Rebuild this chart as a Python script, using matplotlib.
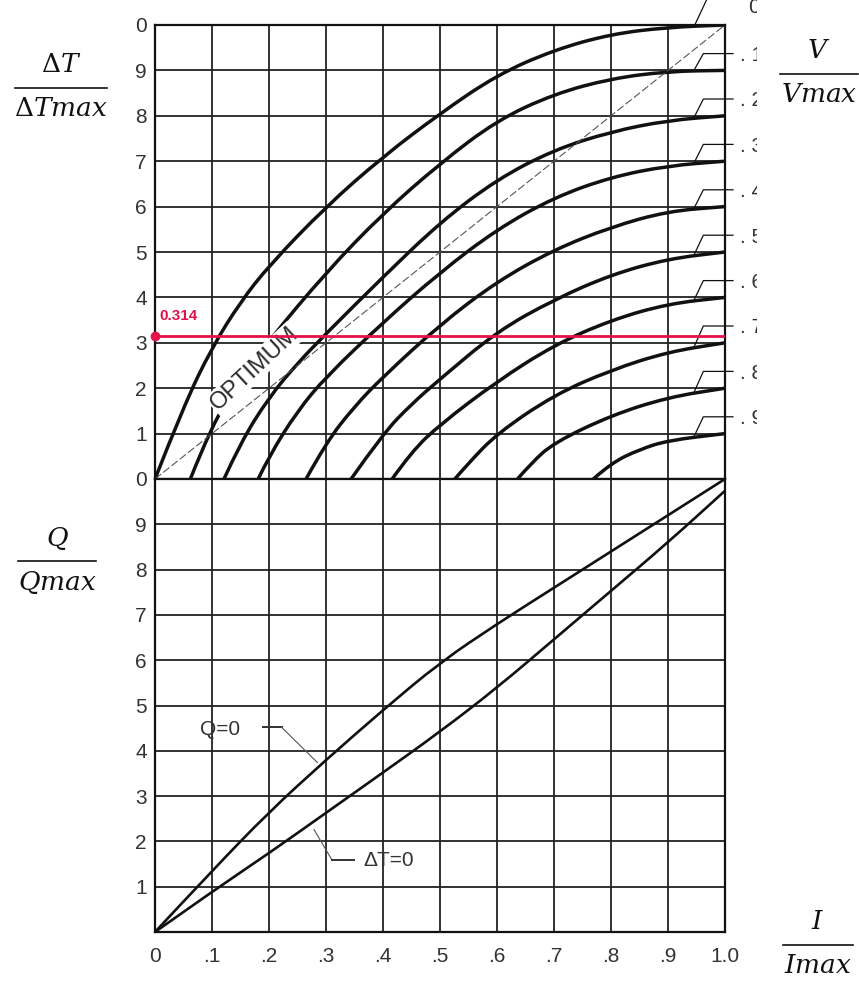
import numpy as np
import matplotlib.pyplot as plt
from matplotlib.lines import Line2D
from matplotlib.path import Path
from matplotlib.patches import PathPatch
from matplotlib.transforms import Bbox, TransformedBbox

plt.rcParams['font.family'] = ['Liberation Sans', 'DejaVu Sans']
plt.rcParams['mathtext.fontset'] = 'dejavuserif'

W, H = 859, 990

# ---- upper chart: dT/dTmax vs I/Imax, one curve per Q/Qmax ----
q_levels = [0.0, 0.1, 0.2, 0.3, 0.4, 0.5, 0.6, 0.7, 0.8, 0.9]
q_names = ['0', '. 1', '. 2', '. 3', '. 4', '. 5', '. 6', '. 7', '. 8', '. 9']

i_q0 = [0, 0.05, 0.1, 0.15, 0.2, 0.3, 0.4, 0.5, 0.6, 0.7, 0.8, 0.9, 1.0]
dt_q0 = [0, 0.16, 0.29, 0.39, 0.47, 0.6, 0.71, 0.805, 0.89, 0.945, 0.98, 0.995, 1.0]
i_q1 = [0.062, 0.1, 0.15, 0.2, 0.3, 0.4, 0.5, 0.6, 0.7, 0.8, 0.9, 1.0]
dt_q1 = [0, 0.12, 0.22, 0.305, 0.455, 0.585, 0.695, 0.79, 0.848, 0.882, 0.898, 0.9]
i_q2 = [0.121, 0.15, 0.2, 0.25, 0.3, 0.4, 0.5, 0.6, 0.7, 0.8, 0.9, 1.0]
dt_q2 = [0, 0.08, 0.18, 0.255, 0.32, 0.445, 0.565, 0.66, 0.725, 0.765, 0.79, 0.8]
i_q3 = [0.181, 0.2, 0.25, 0.3, 0.4, 0.5, 0.6, 0.7, 0.8, 0.9, 1.0]
dt_q3 = [0, 0.05, 0.15, 0.225, 0.345, 0.455, 0.55, 0.62, 0.665, 0.69, 0.7]
i_q4 = [0.265, 0.3, 0.35, 0.4, 0.5, 0.6, 0.7, 0.8, 0.9, 1.0]
dt_q4 = [0, 0.08, 0.16, 0.225, 0.34, 0.435, 0.505, 0.555, 0.59, 0.6]
i_q5 = [0.344, 0.4, 0.45, 0.5, 0.6, 0.7, 0.8, 0.9, 1.0]
dt_q5 = [0, 0.1, 0.165, 0.22, 0.325, 0.395, 0.45, 0.485, 0.5]
i_q6 = [0.416, 0.45, 0.5, 0.6, 0.7, 0.8, 0.9, 1.0]
dt_q6 = [0, 0.06, 0.12, 0.215, 0.295, 0.35, 0.386, 0.4]
i_q7 = [0.526, 0.55, 0.6, 0.7, 0.8, 0.9, 1.0]
dt_q7 = [0, 0.035, 0.1, 0.185, 0.24, 0.28, 0.3]
i_q8 = [0.636, 0.66, 0.7, 0.8, 0.9, 1.0]
dt_q8 = [0, 0.035, 0.08, 0.14, 0.18, 0.2]
i_q9 = [0.769, 0.8, 0.85, 0.9, 1.0]
dt_q9 = [0, 0.035, 0.065, 0.085, 0.1]

opt_i = [0, 1.0]
opt_dt = [0, 1.0]
marked_dt = 0.314

# ---- lower chart: Q/Qmax vs I/Imax ----
i_low = [0, 0.1, 0.2, 0.3, 0.4, 0.5, 0.6, 0.7, 0.8, 0.9, 1.0]
q_at_q0 = [0, 0.135, 0.265, 0.38, 0.49, 0.595, 0.68, 0.76, 0.84, 0.92, 1.0]
q_at_dt0 = [0, 0.089, 0.174, 0.263, 0.352, 0.442, 0.539, 0.646, 0.753, 0.86, 0.974]

ticks = [0, 0.1, 0.2, 0.3, 0.4, 0.5, 0.6, 0.7, 0.8, 0.9, 1.0]
x_labels = ['0', '.1', '.2', '.3', '.4', '.5', '.6', '.7', '.8', '.9', '1.0']
y_top_labels = ['0', '1', '2', '3', '4', '5', '6', '7', '8', '9', '0']
y_bot_labels = ['1', '2', '3', '4', '5', '6', '7', '8', '9']

top_curves = list(zip(q_levels, q_names,
                      [i_q0, i_q1, i_q2, i_q3, i_q4, i_q5, i_q6, i_q7, i_q8, i_q9],
                      [dt_q0, dt_q1, dt_q2, dt_q3, dt_q4, dt_q5, dt_q6, dt_q7, dt_q8, dt_q9]))

INK = '#111111'
GRID = '#222222'
LABEL = '#333333'
RED = '#e3124a'


def fx(px):
    return px / W


def fy(py):
    return 1 - py / H


def curve(ax, xs, ys, lw):
    # quadratic bezier through the read points (points act as control points)
    pts = list(zip(xs, ys))
    verts = [pts[0]]
    codes = [Path.MOVETO]
    for k in range(1, len(pts) - 1):
        mid = ((pts[k][0] + pts[k + 1][0]) / 2, (pts[k][1] + pts[k + 1][1]) / 2)
        verts += [pts[k], mid]
        codes += [Path.CURVE3, Path.CURVE3]
    verts.append(pts[-1])
    codes.append(Path.LINETO)
    ax.add_patch(PathPatch(Path(verts, codes), fill=False, edgecolor=INK,
                           linewidth=lw, capstyle='round', joinstyle='round', zorder=3))


fig = plt.figure(figsize=(W / 100, H / 100), dpi=100, facecolor='white')
L, R = 155, 725
ax_top = fig.add_axes([fx(L), fy(479), (R - L) / W, (479 - 25) / H])
ax_bot = fig.add_axes([fx(L), fy(932), (R - L) / W, (932 - 479) / H])

for ax in (ax_top, ax_bot):
    ax.set_xlim(0, 1)
    ax.set_ylim(0, 1)
    ax.set_xticks(ticks)
    ax.grid(True, color=GRID, linewidth=1.3)
    ax.set_axisbelow(True)
    for sp in ax.spines.values():
        sp.set_linewidth(1.6)
        sp.set_color(INK)
    ax.tick_params(length=0, labelsize=15, labelcolor=LABEL, pad=6)

ax_top.set_yticks(ticks)
ax_top.set_yticklabels(y_top_labels)
ax_top.set_xticklabels([])
ax_bot.set_yticks(ticks)
ax_bot.set_yticklabels([''] + y_bot_labels + [''])
ax_bot.set_xticklabels(x_labels)
ax_bot.tick_params(axis='x', pad=11)

# curves of the upper chart
for q, name, xs, ys in top_curves:
    curve(ax_top, xs, ys, 2.5)

# optimum line (drawn over the label box so it stays visible)
ax_top.plot(opt_i, opt_dt, color='#555555', linewidth=0.8,
            linestyle=(0, (7, 2.5)), zorder=4.5)
ax_top.text(0.174, 0.243, 'OPTIMUM', rotation=43, rotation_mode='anchor',
            ha='center', va='center', fontsize=17, color='#2a2a2a', zorder=4,
            bbox=dict(boxstyle='square,pad=0.06', facecolor='white', edgecolor='none'))

# red marker line
ax_top.plot([0, 1], [marked_dt, marked_dt], color=RED, linewidth=2.0, zorder=5)
ax_top.plot([0], [marked_dt], 'o', color=RED, markersize=6, clip_on=False, zorder=6)
ax_top.text(0.008, marked_dt + 0.045, f'{marked_dt:.3f}', color=RED,
            fontsize=11, fontweight='bold', ha='left', va='center', zorder=6)

# right-hand labels with leaders, cut at the edge of the scan
clip = TransformedBbox(Bbox([[0, 0], [757 / W, 1]]), fig.transFigure)
for q, name, xs, ys in top_curves:
    y_end = ys[-1]
    if q == 0:
        ax_top.plot([0.947, 0.975], [y_end, y_end + 0.075], color=INK,
                    linewidth=0.9, clip_on=False)
        t = ax_top.text(1.04, y_end + 0.038, name, fontsize=15, color=LABEL,
                        ha='left', va='center', clip_on=True)
    else:
        y0 = np.interp(0.945, xs, ys)
        yl = y_end + 0.037
        ax_top.plot([0.945, 0.962, 1.014], [y0, yl, yl], color=INK,
                    linewidth=0.9, clip_on=False)
        t = ax_top.text(1.027, yl - 0.004, name, fontsize=15, color=LABEL,
                        ha='left', va='center', clip_on=True)
    t.set_clip_box(clip)

# lower chart lines
curve(ax_bot, i_low, q_at_q0, 1.9)
curve(ax_bot, i_low, q_at_dt0, 1.9)

ax_bot.text(0.115, 0.448, 'Q=0', fontsize=15, color=LABEL, ha='center', va='center')
ax_bot.plot([0.19, 0.222], [0.452, 0.452], color='#333333', linewidth=1.4)
ax_bot.plot([0.222, 0.285], [0.452, 0.374], color='#555555', linewidth=0.8)
ax_bot.text(0.365, 0.158, '\u0394T=0', fontsize=15, color=LABEL, ha='left', va='center')
ax_bot.plot([0.279, 0.311], [0.226, 0.158], color='#555555', linewidth=0.8)
ax_bot.plot([0.311, 0.35], [0.158, 0.158], color='#333333', linewidth=1.4)


# axis name fractions
def frac(xc, ybar, half, num, den, size=19):
    fig.text(fx(xc), fy(ybar - 23), num, ha='center', va='center',
             fontsize=size, color='#111111')
    fig.add_artist(Line2D([fx(xc - half), fx(xc + half)], [fy(ybar), fy(ybar)],
                          transform=fig.transFigure, color='#111111', linewidth=1.2))
    fig.text(fx(xc), fy(ybar + 21), den, ha='center', va='center',
             fontsize=size, color='#111111')


frac(61, 88, 46, r'$\Delta T$', r'$\Delta Tmax$')
frac(819, 74, 39, r'$V$', r'$Vmax$')
frac(57, 561, 39, r'$Q$', r'$Qmax$')
frac(818, 945, 35, r'$I$', r'$Imax$')

fig.savefig('out.png', dpi=100, facecolor='white')
